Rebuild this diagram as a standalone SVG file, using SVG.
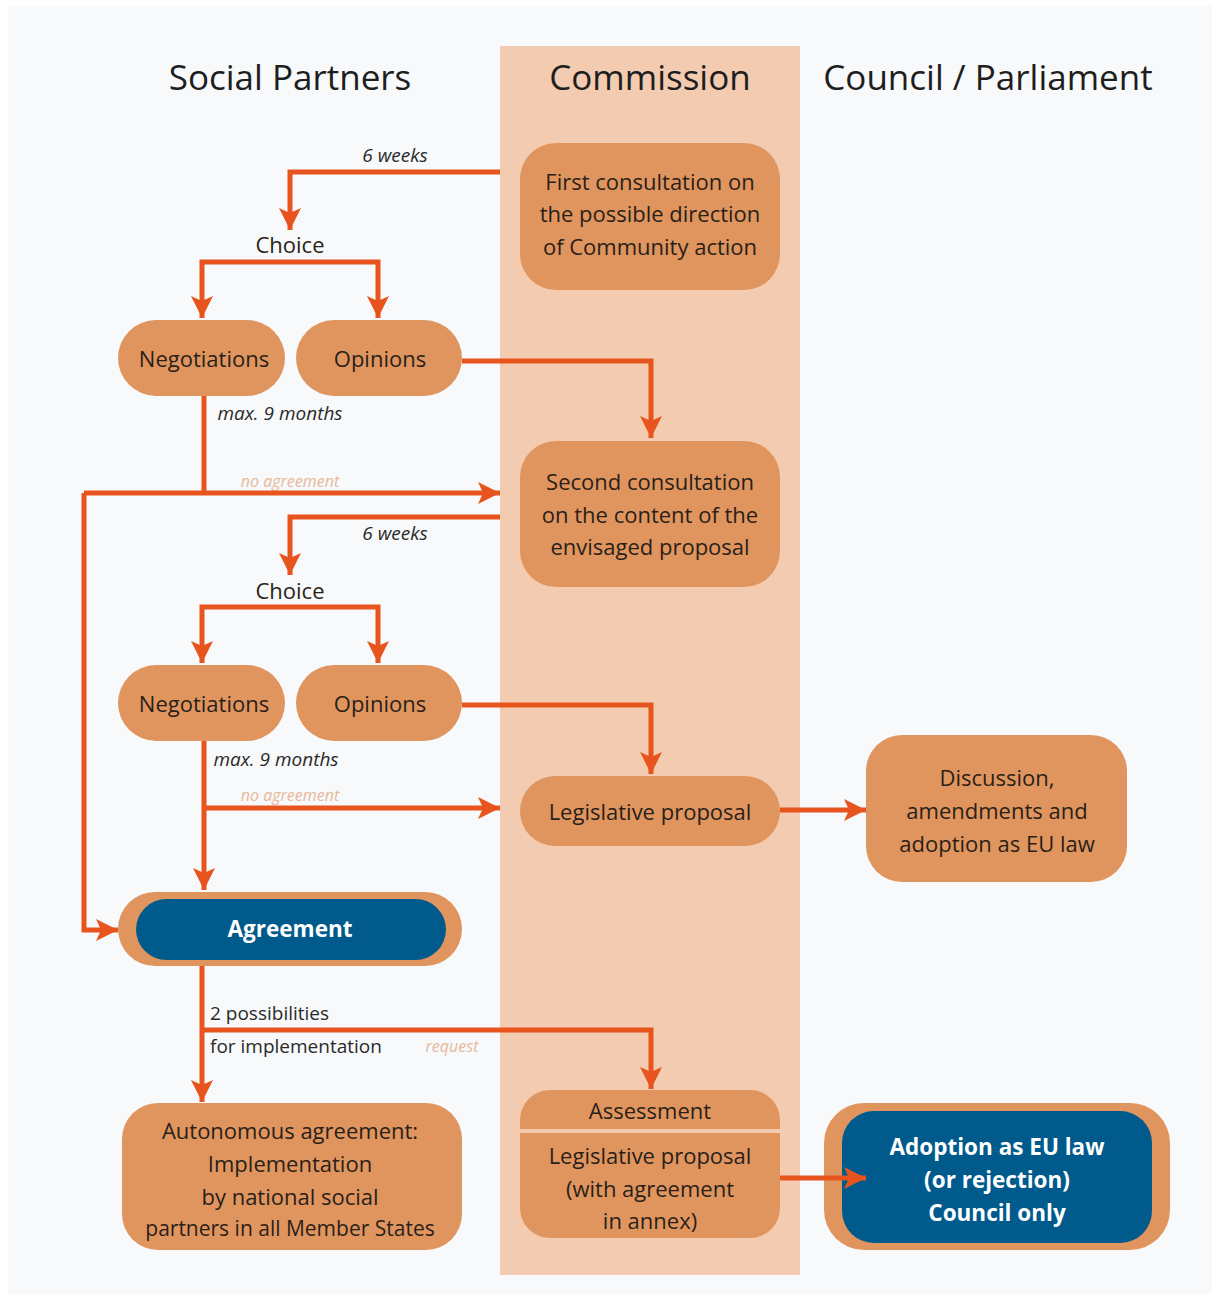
<svg xmlns="http://www.w3.org/2000/svg" width="1219" height="1299" viewBox="0 0 1219 1299">
<defs>
<marker id="ah" markerUnits="userSpaceOnUse" markerWidth="24" markerHeight="24" viewBox="0 0 24 24" refX="22" refY="12" orient="auto">
<path d="M0,1 L22,12 L0,23 L5,12 Z" fill="#e8541e"/>
</marker>
<style>
.h{font-family:"Open Sans","Noto Sans",sans-serif;font-size:35px;fill:#1e1e1e;text-anchor:middle}
.t{font-family:"Open Sans","Noto Sans",sans-serif;font-size:22px;fill:#2a1f18;text-anchor:middle;dominant-baseline:central}
.w{font-family:"Open Sans","Noto Sans",sans-serif;font-size:22.5px;font-weight:bold;fill:#ffffff;text-anchor:middle;dominant-baseline:central}
.lb{font-family:"Open Sans","Noto Sans",sans-serif;font-size:19px;fill:#2a2a2a;dominant-baseline:central}
.it{font-family:"Open Sans","Noto Sans",sans-serif;font-size:19px;font-style:italic;fill:#2a2a2a;text-anchor:middle;dominant-baseline:central}
.fa{font-family:"Open Sans","Noto Sans",sans-serif;font-size:16px;font-style:italic;fill:#e8b89a;text-anchor:middle;dominant-baseline:central}
.n{fill:#e0955f}
.b{fill:#005a8c}
.c{fill:none;stroke:#e8541e;stroke-width:5}
.ca{fill:none;stroke:#e8541e;stroke-width:5;marker-end:url(#ah)}
</style>
</defs>
<rect x="0" y="0" width="1219" height="1299" fill="#ffffff"/>
<rect x="8" y="6" width="1204" height="1288" fill="#f7f9fa"/>
<rect id="commission-lane" x="500" y="46" width="300" height="1229" fill="#f2cbb0"/>
<g id="headers">
<text class="h" x="290" y="90">Social Partners</text>
<text class="h" x="650" y="90">Commission</text>
<text class="h" x="988" y="90">Council / Parliament</text>
</g>
<g id="labels">
<text class="it" x="395" y="155">6 weeks</text>
<text class="it" x="280" y="413">max. 9 months</text>
<text class="fa" x="290" y="481">no agreement</text>
<text class="it" x="395" y="533">6 weeks</text>
<text class="it" x="276" y="759">max. 9 months</text>
<text class="fa" x="290" y="795">no agreement</text>
<text class="lb" x="210" y="1013">2 possibilities</text>
<text class="lb" x="210" y="1046">for implementation</text>
<text class="fa" x="452" y="1046">request</text>
</g>
<g id="first-consultation">
<rect class="n" x="520" y="143" width="260" height="147" rx="36"/>
<text class="t" x="650" y="181">First consultation on</text>
<text class="t" x="650" y="213">the possible direction</text>
<text class="t" x="650" y="246">of Community action</text>
</g>
<g id="choice-1"><text class="t" x="290" y="244">Choice</text></g>
<g id="negotiations-1">
<rect class="n" x="118" y="320" width="167" height="76" rx="38"/>
<text class="t" x="204" y="358">Negotiations</text>
</g>
<g id="opinions-1">
<rect class="n" x="296" y="320" width="166" height="76" rx="38"/>
<text class="t" x="380" y="358">Opinions</text>
</g>
<g id="second-consultation">
<rect class="n" x="520" y="441" width="260" height="146" rx="36"/>
<text class="t" x="650" y="481">Second consultation</text>
<text class="t" x="650" y="514">on the content of the</text>
<text class="t" x="650" y="546">envisaged proposal</text>
</g>
<g id="choice-2"><text class="t" x="290" y="590">Choice</text></g>
<g id="negotiations-2">
<rect class="n" x="118" y="665" width="167" height="76" rx="38"/>
<text class="t" x="204" y="703">Negotiations</text>
</g>
<g id="opinions-2">
<rect class="n" x="296" y="665" width="166" height="76" rx="38"/>
<text class="t" x="380" y="703">Opinions</text>
</g>
<g id="legislative-proposal">
<rect class="n" x="520" y="776" width="260" height="70" rx="35"/>
<text class="t" x="650" y="811">Legislative proposal</text>
</g>
<g id="discussion">
<rect class="n" x="866" y="735" width="261" height="147" rx="36"/>
<text class="t" x="997" y="777">Discussion,</text>
<text class="t" x="997" y="810">amendments and</text>
<text class="t" x="997" y="843">adoption as EU law</text>
</g>
<g id="agreement">
<rect class="n" x="118" y="892" width="344" height="74" rx="37"/>
<rect class="b" x="136" y="899" width="310" height="61" rx="30.5"/>
<text class="w" x="290" y="928">Agreement</text>
</g>
<g id="autonomous-agreement">
<rect class="n" x="122" y="1103" width="340" height="147" rx="36"/>
<text class="t" x="290" y="1130">Autonomous agreement:</text>
<text class="t" x="290" y="1163">Implementation</text>
<text class="t" x="290" y="1196">by national social</text>
<text class="t" x="290" y="1228" style="font-size:21px">partners in all Member States</text>
</g>
<g id="assessment">
<rect class="n" x="520" y="1090" width="260" height="148" rx="30"/>
<rect x="520" y="1129" width="260" height="4" fill="#f2cbb0"/>
<text class="t" x="650" y="1110">Assessment</text>
<text class="t" x="650" y="1155">Legislative proposal</text>
<text class="t" x="650" y="1188">(with agreement</text>
<text class="t" x="650" y="1220">in annex)</text>
</g>
<g id="adoption">
<rect class="n" x="824" y="1103" width="346" height="147" rx="40"/>
<rect class="b" x="842" y="1111" width="310" height="132" rx="32"/>
<text class="w" x="997" y="1146">Adoption as EU law</text>
<text class="w" x="997" y="1179">(or rejection)</text>
<text class="w" x="997" y="1212">Council only</text>
</g>
<g id="connectors">
<polyline class="ca" points="500,172 290,172 290,230"/>
<polyline class="ca" points="290,262 202,262 202,318"/>
<polyline class="ca" points="290,262 378,262 378,318"/>
<polyline class="ca" points="462,361 651,361 651,438"/>
<polyline class="c" points="204,396 204,493"/>
<polyline class="ca" points="84,493 500,493"/>
<polyline class="ca" points="84,493 84,930 118,930"/>
<polyline class="ca" points="500,517 290,517 290,575"/>
<polyline class="ca" points="290,607 202,607 202,663"/>
<polyline class="ca" points="290,607 378,607 378,663"/>
<polyline class="ca" points="462,705 651,705 651,774"/>
<polyline class="ca" points="204,741 204,890"/>
<polyline class="ca" points="204,808 500,808"/>
<polyline class="ca" points="780,810 866,810"/>
<polyline class="ca" points="202,966 202,1102"/>
<polyline class="ca" points="202,1030 651,1030 651,1089"/>
<polyline class="ca" points="780,1178 866,1178"/>
</g>
</svg>
